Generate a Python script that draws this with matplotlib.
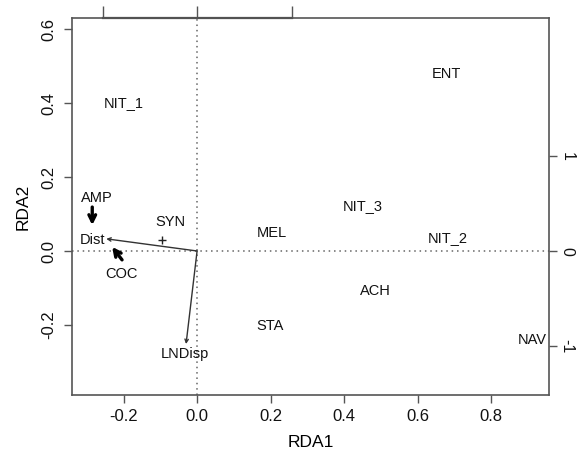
import matplotlib
matplotlib.use("Agg")
import matplotlib.pyplot as plt

plt.rcParams['font.family'] = ['Liberation Sans', 'DejaVu Sans']

# species scores (label positions)
species = ["NIT_1", "ENT", "NIT_3", "NIT_2", "ACH", "NAV", "STA", "MEL", "SYN", "AMP", "COC"]
sp_x = [-0.20, 0.677, 0.45, 0.682, 0.486, 0.91, 0.198, 0.204, -0.073, -0.272, -0.207]
sp_y = [0.40, 0.48, 0.122, 0.035, -0.108, -0.241, -0.203, 0.049, 0.079, 0.144, -0.062]

# site point
site_x = [-0.095]
site_y = [0.03]

# environmental vectors
env = ["Dist", "LNDisp"]
env_x = [-0.247, -0.03]
env_y = [0.033, -0.252]
env_lab_x = [-0.283, -0.033]
env_lab_y = [0.03, -0.28]

# highlight arrows (start -> end)
hl_start = [(-0.285, 0.119), (-0.204, -0.024)]
hl_end = [(-0.285, 0.070), (-0.231, 0.011)]

# secondary axis scale (biplot units)
scale2 = 0.257
ticks2 = [-1, 0, 1]

fig = plt.figure(figsize=(5.78, 4.59), dpi=100)
ax = fig.add_axes([0.1246, 0.1394, 0.8254, 0.8214])
edge = '#555555'

ax.set_xlim(-0.34, 0.957)
ax.set_ylim(-0.39, 0.631)

ax.axhline(0, color='#666666', linestyle=(0, (1, 2.5)), linewidth=1.1)
ax.axvline(0, color='#666666', linestyle=(0, (1, 2.5)), linewidth=1.1)

for name, x, y in zip(species, sp_x, sp_y):
    ax.text(x, y, name, ha='center', va='center', fontsize=10.5, color='#111111')

ax.plot(site_x, site_y, marker='+', linestyle='none', color='#222222', markersize=6, markeredgewidth=1)

for name, x, y, lx, ly in zip(env, env_x, env_y, env_lab_x, env_lab_y):
    ax.annotate('', xy=(x, y), xytext=(0, 0),
                arrowprops=dict(arrowstyle='->', color='#333333', lw=1.0, shrinkA=0, shrinkB=0,
                                mutation_scale=6))
    ax.text(lx, ly, name, ha='center', va='center', fontsize=10.5, color='#111111')

for s, e in zip(hl_start, hl_end):
    ax.annotate('', xy=e, xytext=s,
                arrowprops=dict(arrowstyle='->', color='black', lw=2.4, shrinkA=0, shrinkB=0,
                                mutation_scale=12))

ax.set_xticks([-0.2, 0.0, 0.2, 0.4, 0.6, 0.8])
ax.set_yticks([-0.2, 0.0, 0.2, 0.4, 0.6])
ax.set_xticklabels(['-0.2', '0.0', '0.2', '0.4', '0.6', '0.8'])
ax.set_yticklabels(['-0.2', '0.0', '0.2', '0.4', '0.6'], rotation=90, va='center')
ax.tick_params(direction='out', length=6, width=1, color=edge, labelsize=12, labelcolor='#111111', pad=4)
ax.tick_params(axis='y', pad=5)

for sp in ax.spines.values():
    sp.set_color(edge)
    sp.set_linewidth(1.2)

ax.set_xlabel('RDA1', fontsize=12.5, labelpad=8)
ax.set_ylabel('RDA2', fontsize=12.5, labelpad=8)

top = ax.secondary_xaxis('top', functions=(lambda v: v / scale2, lambda v: v * scale2))
top.set_xticks(ticks2)
top.set_xticklabels([])
top.tick_params(direction='out', length=9, width=1, color=edge)
top.spines['top'].set_visible(False)
# axis line between first and last top tick
ax.plot([ticks2[0] * scale2, ticks2[-1] * scale2], [1, 1], transform=ax.get_xaxis_transform(),
        color='#444444', lw=1.6, clip_on=False)

right = ax.secondary_yaxis('right', functions=(lambda v: v / scale2, lambda v: v * scale2))
right.set_yticks(ticks2)
right.set_yticklabels([str(t) for t in ticks2], rotation=-90, va='center')
right.tick_params(direction='out', length=6, width=1, color=edge, labelsize=11.5, labelcolor='#111111', pad=1.5)
right.spines['right'].set_visible(False)

fig.savefig('out.png', dpi=100, facecolor='white')
